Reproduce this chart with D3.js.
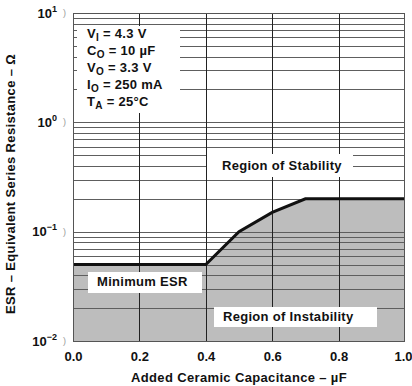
<!DOCTYPE html>
<html>
<head>
<meta charset="utf-8">
<script src="https://cdn.jsdelivr.net/npm/d3@7"></script>
<style>
  body { margin:0; background:#fff; }
  svg { display:block; font-family:"Liberation Sans", Arial, Helvetica, sans-serif; font-weight:bold; }
</style>
</head>
<body>
<svg id="chart" width="412" height="386"></svg>
<script>
// minimum ESR boundary vs added ceramic capacitance
const capacitance = [0, 0.4, 0.5, 0.6, 0.7, 1.0];
const minEsr = [0.05, 0.05, 0.1, 0.15, 0.2, 0.2];
const xTicks = [0, 0.2, 0.4, 0.6, 0.8, 1.0];
const yDecades = [0.01, 0.1, 1, 10];
const yExponents = ['\u22122', '\u22121', '0', '1'];
const conditions = [
  ['V', 'I', ' = 4.3 V'],
  ['C', 'O', ' = 10 \u00b5F'],
  ['V', 'O', ' = 3.3 V'],
  ['I', 'O', ' = 250 mA'],
  ['T', 'A', ' = 25\u00b0C']
];

const W = 412, H = 386;
const m = { top:13, right:7, bottom:45, left:73 };
const svg = d3.select('#chart');

const x = d3.scaleLinear().domain([0, 1]).range([m.left, W - m.right]);
const y = d3.scaleLog().domain([0.01, 10]).range([H - m.bottom, m.top]);

const pts = capacitance.map((c, i) => ({ c, r: minEsr[i] }));

// grey region of instability
svg.append('path')
  .datum(pts)
  .attr('fill', '#bdbdbd')
  .attr('d', d3.area().x(d => x(d.c)).y0(y(0.01)).y1(d => y(d.r)));

// log grid
const hLines = [];
yDecades.slice(0, 3).forEach(d => { for (let k = 1; k <= 9; k++) hLines.push(d * k); });
hLines.push(10);
svg.append('g')
  .selectAll('line').data(hLines).enter().append('line')
  .attr('x1', m.left).attr('x2', W - m.right)
  .attr('y1', d => Math.round(y(d)) + 0.5).attr('y2', d => Math.round(y(d)) + 0.5)
  .attr('stroke', '#5e5e5e').attr('stroke-width', 1);

svg.append('g')
  .selectAll('line').data(xTicks.slice(1, -1)).enter().append('line')
  .attr('x1', d => Math.round(x(d)) + 0.5).attr('x2', d => Math.round(x(d)) + 0.5)
  .attr('y1', m.top).attr('y2', H - m.bottom)
  .attr('stroke', '#222').attr('stroke-width', 1);

// white label boxes (cover the grid)
const boxes = [
  { x0:77, y0:26, x1:180, y1:113 },
  { x0:207, y0:154, x1:353, y1:177 },
  { x0:88, y0:272, x1:202, y1:293 },
  { x0:214, y0:307, x1:377, y1:327 }
];
svg.append('g').selectAll('rect').data(boxes).enter().append('rect')
  .attr('x', d => d.x0).attr('y', d => d.y0)
  .attr('width', d => d.x1 - d.x0).attr('height', d => d.y1 - d.y0)
  .attr('fill', '#fff');

// boundary curve
svg.append('path')
  .datum(pts)
  .attr('fill', 'none')
  .attr('stroke', '#111')
  .attr('stroke-width', 3)
  .attr('d', d3.line().x(d => x(d.c)).y(d => y(d.r)));

// plot frame
svg.append('rect')
  .attr('x', m.left + 0.5).attr('y', m.top + 0.5)
  .attr('width', W - m.left - m.right - 1).attr('height', H - m.top - m.bottom)
  .attr('fill', 'none').attr('stroke', '#555');

// x axis labels
const xAxis = svg.append('g')
  .attr('transform', `translate(0,${H - m.bottom})`)
  .call(d3.axisBottom(x).tickValues(xTicks).tickFormat(d3.format('.1f')).tickSize(0).tickPadding(0));
xAxis.select('.domain').remove();
xAxis.selectAll('text')
  .attr('y', 20).attr('dy', 0)
  .attr('font-size', 13).attr('font-family', null).attr('fill', '#111');
// last label sits at the right edge; keep it inside the picture
xAxis.selectAll('text').filter(d => d === 1).attr('text-anchor', 'end').attr('x', 412 - x(1));

// y axis labels (10^n)
const yAxis = svg.append('g');
yDecades.forEach((d, i) => {
  const t = yAxis.append('text')
    .attr('x', 57).attr('y', y(d) + 4.5)
    .attr('text-anchor', 'end')
    .attr('font-size', 13).attr('fill', '#111');
  t.append('tspan').text('10');
  t.append('tspan').attr('dy', -6).attr('font-size', 9).text(yExponents[i]);
  yAxis.append('text')
    .attr('x', 63).attr('y', y(d) + 3)
    .attr('font-size', 9).attr('font-weight', 'normal').attr('fill', '#999')
    .text(')');
});

// axis titles
svg.append('text')
  .attr('x', (m.left + W - m.right) / 2).attr('y', 382)
  .attr('text-anchor', 'middle').attr('font-size', 13)
  .attr('letter-spacing', 0.35).attr('fill', '#111')
  .text('Added Ceramic Capacitance \u2013 \u00b5F');

svg.append('text')
  .attr('transform', 'translate(15,184) rotate(-90)')
  .attr('text-anchor', 'middle').attr('font-size', 13)
  .attr('letter-spacing', 0.35).attr('fill', '#111')
  .text('ESR \u2013 Equivalent Series Resistance \u2013 \u03a9');

// operating conditions
const cond = svg.append('g').attr('font-size', 13).attr('fill', '#111');
conditions.forEach((c, i) => {
  const t = cond.append('text').attr('x', 87).attr('y', 37.5 + i * 17.2).attr('letter-spacing', 0.3);
  t.append('tspan').text(c[0]);
  t.append('tspan').attr('dy', 3).attr('font-size', 10).text(c[1]);
  t.append('tspan').attr('dy', -3).text(c[2]);
});

// region labels
const labels = [
  { text:'Region of Stability', x:222, y:169.5 },
  { text:'Minimum ESR', x:97, y:286 },
  { text:'Region of Instability', x:223, y:321 }
];
svg.append('g').selectAll('text').data(labels).enter().append('text')
  .attr('x', d => d.x).attr('y', d => d.y)
  .attr('font-size', 13).attr('letter-spacing', 0.3).attr('fill', '#111')
  .text(d => d.text);
</script>
</body>
</html>
